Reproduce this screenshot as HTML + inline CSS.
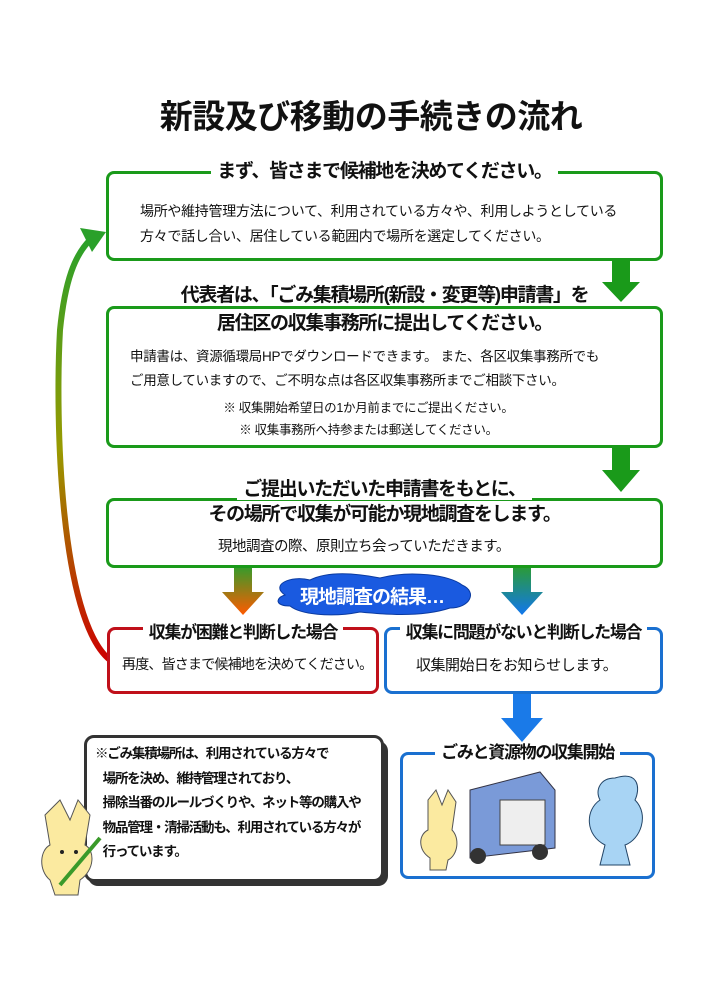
<!DOCTYPE html>
<html><head><meta charset="utf-8"><style>
body{margin:0;width:707px;height:1000px;background:#fff;position:relative;overflow:hidden;font-family:"Liberation Sans","Noto Sans CJK JP",sans-serif;color:#111}
.a{position:absolute;white-space:nowrap}
.box{position:absolute;border:3px solid #1a9a1a;border-radius:8px;background:#fff}
.hc{position:absolute;text-align:center;white-space:nowrap}
.hc span{background:#fff;font-weight:bold;font-size:19px;padding:0 6px;line-height:25px;letter-spacing:-1.3px}
.t{font-size:13.5px;line-height:24px;letter-spacing:-0.3px}
.c{text-align:center;left:0;right:0}
</style></head><body>
<div class="a" style="left:140px;width:462px;top:90px;text-align:center;font-size:33px;font-weight:bold;letter-spacing:-0.5px">新設及び移動の手続きの流れ</div>

<svg class="a" style="left:0;top:0" width="707" height="1000">
<defs>
<linearGradient id="lg" x1="0" y1="1" x2="0" y2="0"><stop offset="0" stop-color="#c00"/><stop offset="0.5" stop-color="#999a00"/><stop offset="1" stop-color="#2aa02a"/></linearGradient>
<linearGradient id="og" x1="0" y1="0" x2="0" y2="1"><stop offset="0" stop-color="#3a9a2a"/><stop offset="1" stop-color="#ff5a00"/></linearGradient>
<linearGradient id="bg" x1="0" y1="0" x2="0" y2="1"><stop offset="0" stop-color="#2a9a3a"/><stop offset="1" stop-color="#1177ee"/></linearGradient>
</defs>
<path d="M110 660 C60 620 55 420 60 330 C65 280 75 255 90 240" fill="none" stroke="url(#lg)" stroke-width="6"/>
<polygon points="80,228 106,232 92,252" fill="#2aa02a"/>
<polygon points="612,258 630,258 630,282 640,282 621,302 602,282 612,282" fill="#1a9a1a"/>
<polygon points="612,445 630,445 630,470 640,470 621,492 602,470 612,470" fill="#1a9a1a"/>
<polygon points="234,568 252,568 252,592 264,592 243,615 222,592 234,592" fill="url(#og)"/>
<polygon points="513,568 531,568 531,592 543,592 522,615 501,592 513,592" fill="url(#bg)"/>
<polygon points="513,690 531,690 531,718 543,718 522,742 501,718 513,718" fill="#1a7ae8"/>
<path d="M285 595 C270 585 290 575 310 580 C330 570 360 574 380 578 C410 570 450 575 462 585 C478 592 470 608 450 608 C420 618 380 614 360 612 C330 618 300 614 290 606 C275 606 275 598 285 595Z" fill="#1a5ae0" stroke="#0a3aa0"/>
<rect x="88" y="741" width="300" height="145" rx="10" fill="#333"/>
</svg>

<div class="box" style="left:106px;top:171px;width:551px;height:84px"></div>
<div class="hc" style="left:106px;width:557px;top:159px"><span>まず、皆さまで候補地を決めてください。</span></div>
<div class="a t" style="left:140px;top:199px;font-size:14px">場所や維持管理方法について、利用されている方々や、利用しようとしている</div>
<div class="a t" style="left:140px;top:224px;font-size:14px">方々で話し合い、居住している範囲内で場所を選定してください。</div>

<div class="box" style="left:106px;top:306px;width:551px;height:136px"></div>
<div class="hc" style="left:106px;width:557px;top:283px"><span>代表者は、「ごみ集積場所(新設・変更等)申請書」を</span></div>
<div class="hc" style="left:106px;width:557px;top:311px"><span>居住区の収集事務所に提出してください。</span></div>
<div class="a t" style="left:130px;top:345px">申請書は、資源循環局HPでダウンロードできます。 また、各区収集事務所でも</div>
<div class="a t" style="left:130px;top:369px">ご用意していますので、ご不明な点は各区収集事務所までご相談下さい。</div>
<div class="a t c" style="top:396px;font-size:12.5px;padding-left:30px">※ 収集開始希望日の1か月前までにご提出ください。</div>
<div class="a t c" style="top:418px;font-size:12.5px;padding-left:30px">※ 収集事務所へ持参または郵送してください。</div>

<div class="box" style="left:106px;top:498px;width:551px;height:64px"></div>
<div class="hc" style="left:106px;width:557px;top:477px"><span>ご提出いただいた申請書をもとに、</span></div>
<div class="hc" style="left:106px;width:557px;top:502px"><span>その場所で収集が可能か現地調査をします。</span></div>
<div class="a t" style="left:218px;top:535px;font-size:14.5px;letter-spacing:-0.5px">現地調査の際、原則立ち会っていただきます。</div>

<div class="a" style="left:300px;top:582px;color:#fff;font-weight:bold;font-size:19px;letter-spacing:-1px">現地調査の結果…</div>

<div class="box" style="left:107px;top:627px;width:266px;height:61px;border-color:#c0101a"></div>
<div class="hc" style="left:107px;width:272px;top:620px"><span style="font-size:17px">収集が困難と判断した場合</span></div>
<div class="a" style="left:122px;top:654px;font-size:14px;letter-spacing:-0.8px">再度、皆さまで候補地を決めてください。</div>

<div class="box" style="left:384px;top:627px;width:273px;height:61px;border-color:#1a70d0"></div>
<div class="hc" style="left:384px;width:279px;top:620px"><span style="font-size:17px">収集に問題がないと判断した場合</span></div>
<div class="a" style="left:416px;top:654px;font-size:15px;letter-spacing:-0.5px">収集開始日をお知らせします。</div>

<div class="a" style="left:84px;top:735px;width:294px;height:141px;background:#fff;border:3px solid #333;border-radius:10px"></div>
<div class="a" style="left:95px;top:742px;font-size:13.5px;font-weight:bold;line-height:24.5px;letter-spacing:-1.2px">※ごみ集積場所は、利用されている方々で<br>&nbsp;&nbsp;&nbsp;場所を決め、維持管理されており、<br>&nbsp;&nbsp;&nbsp;掃除当番のルールづくりや、ネット等の購入や<br>&nbsp;&nbsp;&nbsp;物品管理・清掃活動も、利用されている方々が<br>&nbsp;&nbsp;&nbsp;行っています。</div>

<div class="box" style="left:400px;top:752px;width:249px;height:121px;border-color:#1a70d0"></div>
<div class="hc" style="left:400px;width:255px;top:740px"><span style="font-size:17px">ごみと資源物の収集開始</span></div>

<svg class="a" style="left:0;top:0" width="707" height="1000">
<path d="M45 815 L60 800 L70 820 L78 800 L90 815 L85 845 C95 850 95 870 80 880 L78 895 L55 895 L50 880 C38 870 40 850 50 845Z" fill="#fbeaa0" stroke="#555"/>
<circle cx="62" cy="852" r="2" fill="#222"/><circle cx="76" cy="852" r="2" fill="#222"/>
<line x1="60" y1="885" x2="100" y2="838" stroke="#3a9a2a" stroke-width="4"/>
<path d="M470 790 L540 772 L555 790 L555 848 L470 858Z" fill="#7a9ad8" stroke="#334"/>
<rect x="500" y="800" width="45" height="45" fill="#eee" stroke="#444"/>
<circle cx="478" cy="856" r="8" fill="#333"/><circle cx="540" cy="852" r="8" fill="#333"/>
<path d="M428 800 L436 790 L442 805 L448 790 L456 802 L452 830 C460 838 458 855 448 860 L446 870 L430 870 L430 858 C418 850 418 835 428 830Z" fill="#fbeaa0" stroke="#555"/>
<path d="M615 778 C640 770 640 790 635 800 C650 815 640 840 625 845 L630 865 L600 865 L605 845 C585 835 585 810 600 800 C595 790 600 778 615 778Z" fill="#a8d4f4" stroke="#246"/>
</svg>
</body></html>
